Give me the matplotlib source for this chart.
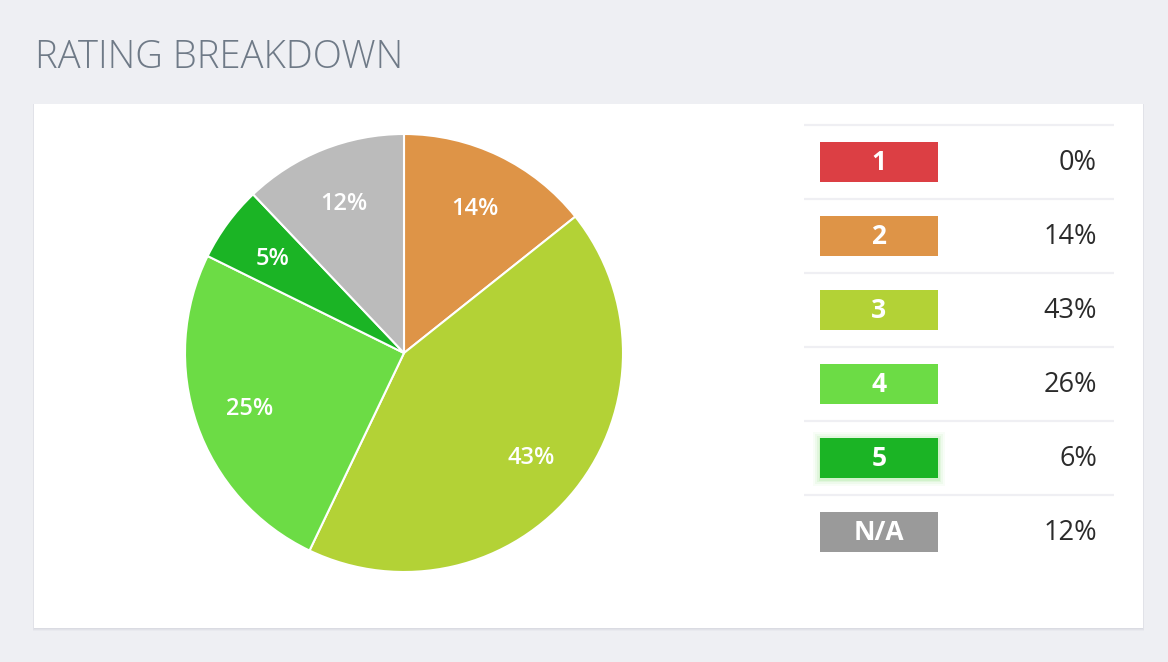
import matplotlib
matplotlib.use("Agg")
import matplotlib.pyplot as plt
from matplotlib.patches import Rectangle

# ---- data ----
title = "RATING BREAKDOWN"
categories = ["1", "2", "3", "4", "5", "N/A"]
legend_pcts = ["0%", "14%", "43%", "26%", "6%", "12%"]
legend_colors = ["#dc3f44", "#de9447", "#b3d236", "#6cdc45", "#1bb425", "#9a9a9a"]

pie_values = [14.3, 42.8, 25.2, 5.6, 12.1]
pie_labels = ["14%", "43%", "25%", "5%", "12%"]
pie_colors = ["#de9447", "#b3d236", "#6cdc45", "#1bb425", "#bbbbbb"]

W, H = 1168, 662
fig = plt.figure(figsize=(W / 100, H / 100), dpi=100)
fig.patch.set_facecolor("#eeeff3")

# background axes in pixel coords
bg = fig.add_axes([0, 0, 1, 1])
bg.set_xlim(0, W)
bg.set_ylim(H, 0)
bg.axis("off")

# card shadow + card
for off, col in [(3, "#e8e9ee"), (2, "#e1e2e8"), (1, "#dadbe2")]:
    bg.add_patch(Rectangle((34 - off * 0.3, 104), 1109 + off * 0.6, 524 + off, facecolor=col, edgecolor="none", zorder=1))
bg.add_patch(Rectangle((34, 104), 1109, 524, facecolor="white", edgecolor="none", zorder=2))

# title
bg.text(35, 68, title, fontsize=27.5, family=["Open Sans", "DejaVu Sans"], fontweight="light",
        color="#6f7a87", ha="left", va="baseline", zorder=3)

# legend table
sep_ys = [125, 199, 273, 347, 421, 495]
for y in sep_ys:
    bg.plot([804, 1114], [y, y], color="#efeff3", lw=1.6, zorder=3, solid_capstyle="butt")

row_h = 74
for i, (cat, pct, col) in enumerate(zip(categories, legend_pcts, legend_colors)):
    top = 142 + i * row_h
    if cat == "5":
        for k, a in [(7, 0.06), (5, 0.09), (3, 0.13), (1.5, 0.18)]:
            bg.add_patch(Rectangle((820 - k, top - k + 1), 118 + 2 * k, 40 + 2 * k, facecolor="#8de27e",
                                   alpha=a, edgecolor="none", zorder=3))
    bg.add_patch(Rectangle((820, top), 118, 40, facecolor=col, edgecolor="none", zorder=4))
    bg.text(879, top + 21, cat, fontsize=19, family=["Open Sans", "DejaVu Sans"], fontweight="bold",
            color="white", ha="center", va="center", zorder=5)
    bg.text(1097, top + 21, pct, fontsize=19.5, family=["Open Sans", "DejaVu Sans"],
            color="#2b2b2b", ha="right", va="center", zorder=5)

# pie
cx, cy, r = 404, 353, 219
pax = fig.add_axes([(cx - r) / W, (H - cy - r) / H, 2 * r / W, 2 * r / H])
wedges, texts = pax.pie(pie_values, colors=pie_colors, startangle=90, counterclock=False,
                        labels=pie_labels, labeldistance=0.745,
                        wedgeprops=dict(edgecolor="white", linewidth=1.5),
                        textprops=dict(color="white", fontsize=17, fontweight="semibold",
                                       family=["Open Sans", "DejaVu Sans"]))
for t in texts:
    t.set_ha("center")
    t.set_va("center_baseline")
pax.set_xlim(-1, 1)
pax.set_ylim(-1, 1)
pax.set_aspect("equal")
pax.axis("off")

fig.savefig("out.png", dpi=100, facecolor=fig.get_facecolor())
